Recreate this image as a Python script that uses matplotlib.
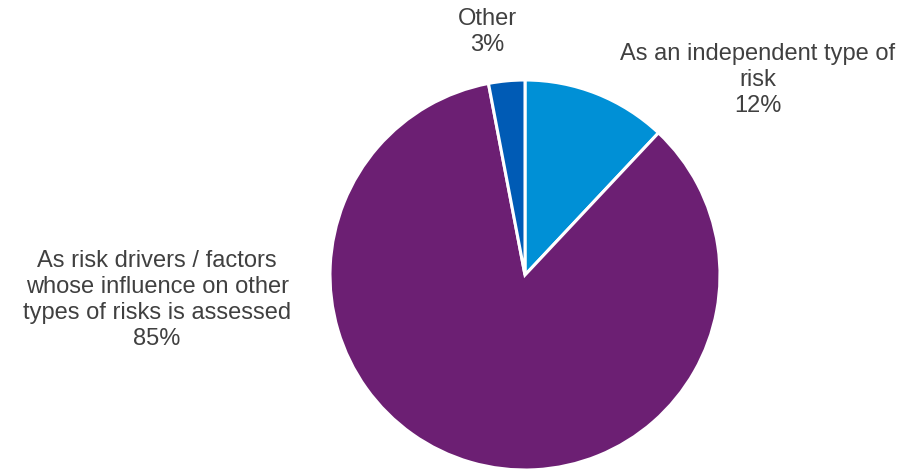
import matplotlib
matplotlib.use("Agg")
import matplotlib.pyplot as plt

categories = ["As an independent type of\nrisk",
              "As risk drivers / factors\nwhose influence on other\ntypes of risks is assessed",
              "Other"]
values = [12, 85, 3]
colors = ["#0090D6", "#6C1F73", "#005BB5"]
label_pos = [(1.195, 1.0), (-1.887, -0.128), (-0.195, 1.246)]

plt.rcParams['font.family'] = ['Liberation Sans', 'DejaVu Sans']
fig = plt.figure(figsize=(9.01, 4.71), dpi=100)
ax = fig.add_axes([330/901, 1/471, 390/901, 390/471])
ax.pie(values, colors=colors, startangle=90, counterclock=False,
       wedgeprops=dict(edgecolor="white", linewidth=2.2), radius=1)
ax.set_xlim(-1, 1)
ax.set_ylim(-1, 1)
ax.set_aspect('auto')
ax.axis('off')
for cat, v, (x, y) in zip(categories, values, label_pos):
    ax.text(x, y, f"{cat}\n{v}%", ha='center', va='center', fontsize=17,
            color='#404040', linespacing=1.22, clip_on=False)
fig.savefig("out.png", dpi=100)
